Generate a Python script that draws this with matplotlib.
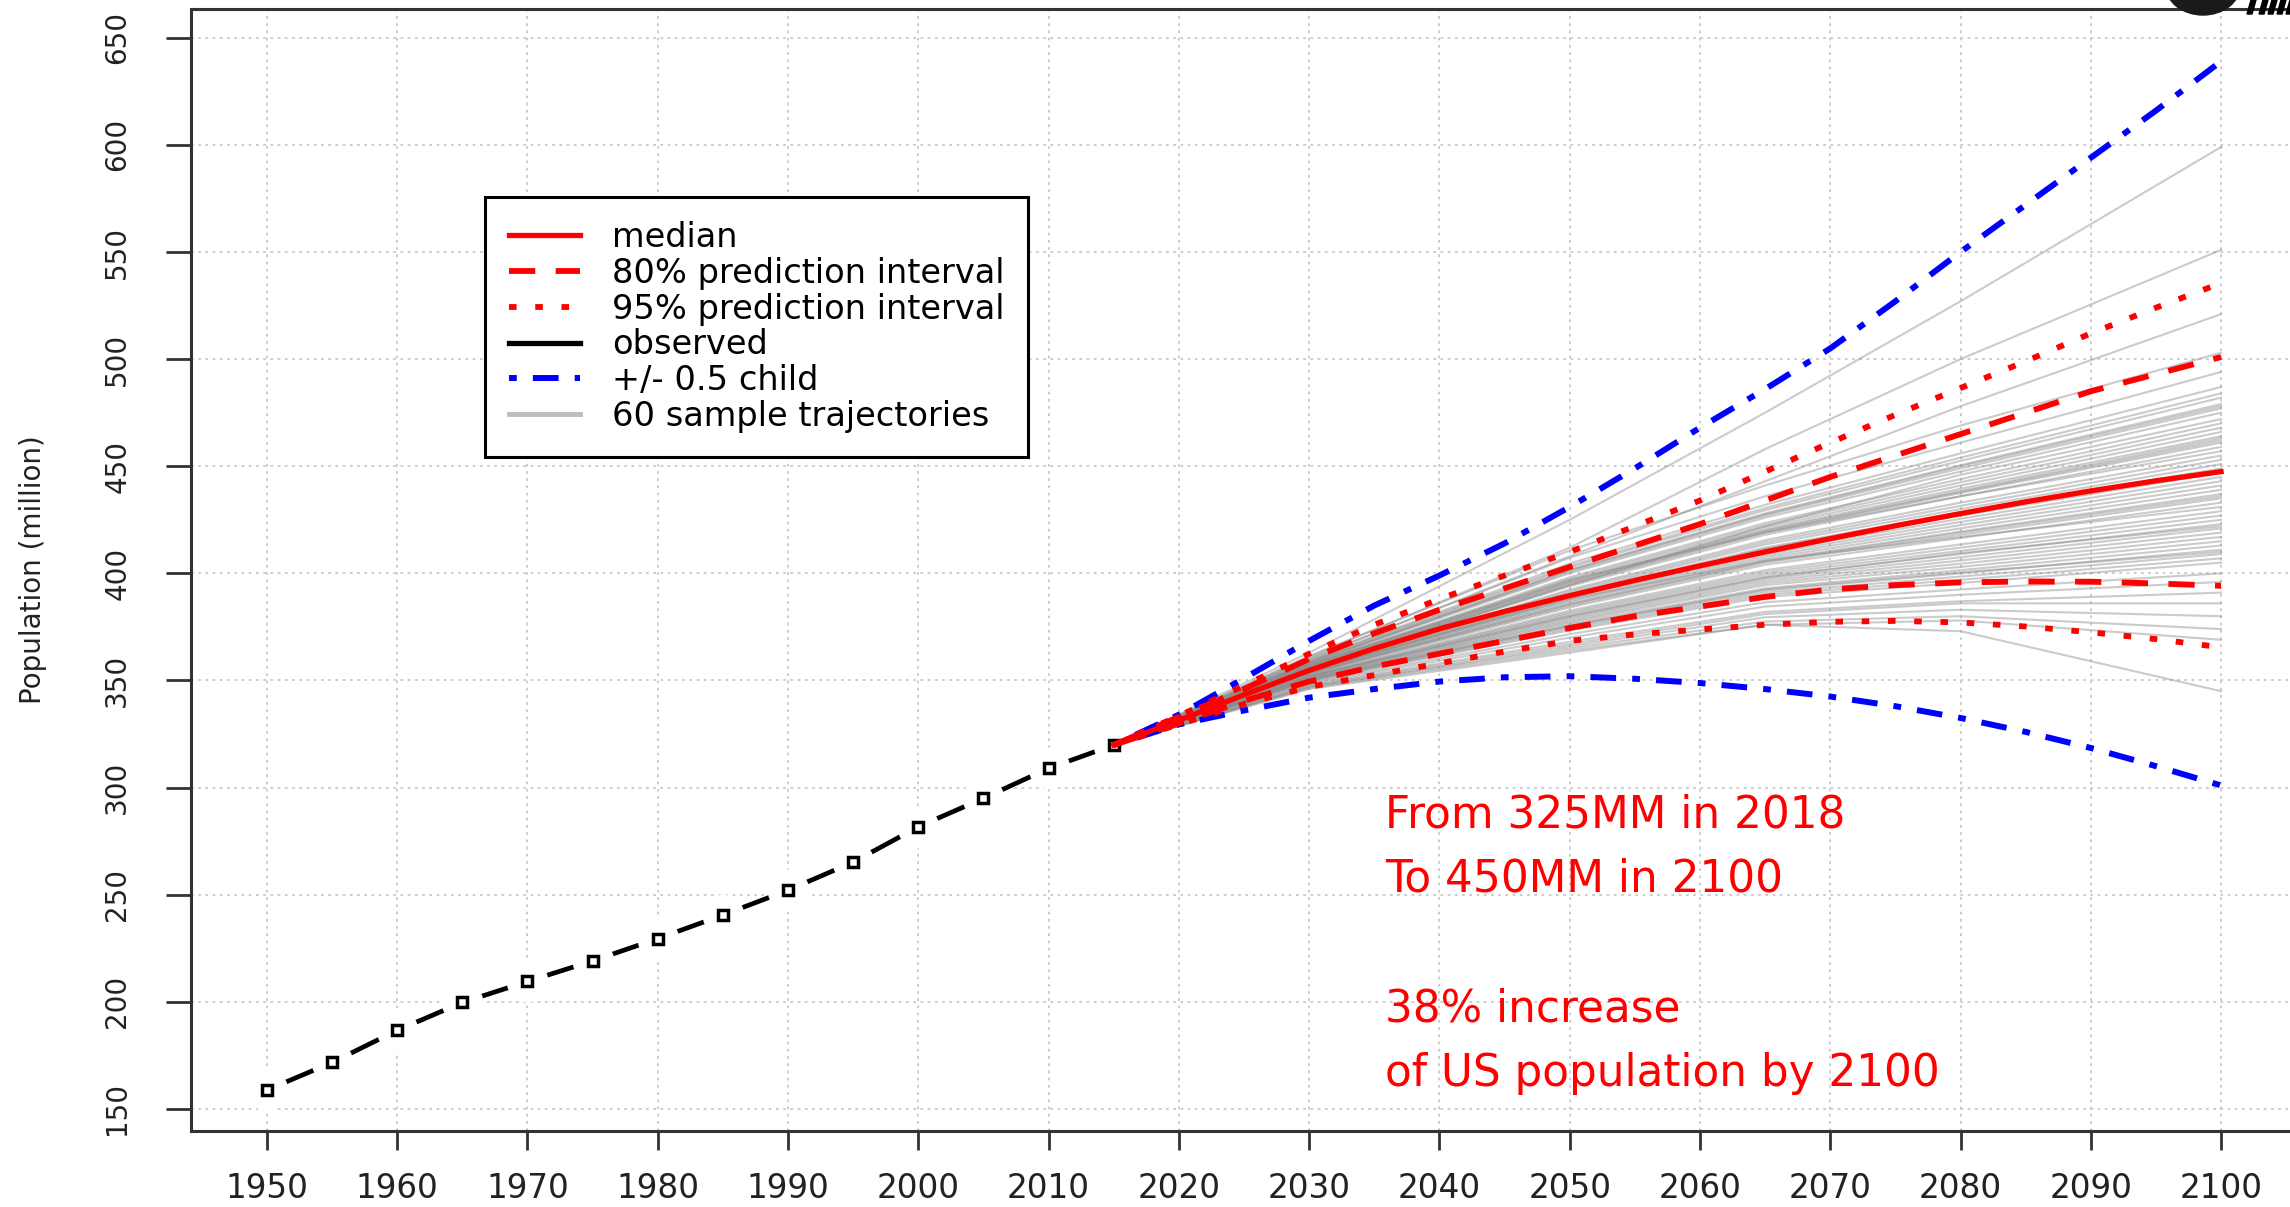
import matplotlib.pyplot as plt
from matplotlib.lines import Line2D
from matplotlib.patches import Ellipse, Polygon

# observed population (million)
obs_years = [1950, 1955, 1960, 1965, 1970, 1975, 1980, 1985, 1990, 1995, 2000, 2005, 2010, 2015]
obs_pop = [158.8, 171.7, 186.7, 199.7, 209.5, 219.1, 229.5, 240.5, 252.1, 265.2, 281.7, 295.0, 309.0, 319.9]

# projections
proj_years = [2015, 2020, 2025, 2030, 2035, 2040, 2045, 2050, 2055, 2060,
              2065, 2070, 2075, 2080, 2085, 2090, 2095, 2100]
median = [319.9, 331.4, 343.3, 354.7, 364.9, 374.1, 382.2, 389.6, 396.7, 403.5,
          410.0, 416.2, 422.2, 427.9, 433.4, 438.5, 443.2, 447.5]
pi80_up = [319.9, 333.0, 346.0, 360.0, 372.0, 383.0, 393.0, 403.0, 413.0, 423.0,
           434.0, 445.0, 455.0, 465.0, 475.0, 485.0, 493.0, 501.0]
pi80_low = [319.9, 330.0, 340.5, 349.5, 356.5, 362.5, 368.5, 374.5, 380.0, 384.5,
            389.0, 392.5, 394.5, 395.8, 396.2, 396.1, 395.3, 394.2]
pi95_up = [319.9, 333.5, 347.5, 362.5, 376.0, 388.0, 399.0, 410.0, 422.0, 434.0,
           447.5, 461.0, 474.0, 486.5, 499.0, 512.0, 524.0, 535.5]
pi95_low = [319.9, 329.5, 339.0, 347.0, 352.5, 358.0, 363.5, 368.5, 371.5, 373.8,
            376.0, 377.4, 377.8, 377.1, 375.2, 372.5, 369.3, 365.5]
half_up = [319.9, 334.0, 351.0, 368.5, 385.0, 399.0, 414.0, 431.0, 449.0, 468.0,
           486.0, 505.0, 527.0, 550.0, 572.0, 594.0, 616.0, 639.0]
half_low = [319.9, 329.5, 336.0, 342.0, 346.0, 349.5, 351.5, 352.0, 350.8, 348.8,
            346.0, 342.5, 338.0, 332.5, 326.0, 318.5, 310.0, 301.0]

# 60 sample trajectories: start 2015 then values at 2030, 2050, 2065, 2080, 2100
traj_start = 319.9
traj_years = [2015, 2030, 2050, 2065, 2080, 2100]
traj = [
    [363.0, 425.0, 475.0, 527.0, 599], [361.0, 412.0, 458.0, 500.0, 551], [360.0, 408.0, 443.0, 478.0, 521],
    [361.4, 410.7, 441.0, 469.0, 503], [360.3, 407.3, 436.0, 461.0, 494], [359.4, 404.6, 432.0, 456.0, 487],
    [359.1, 403.5, 430.5, 454.0, 484], [358.8, 402.7, 429.5, 452.5, 482], [358.5, 401.6, 428.0, 450.5, 479],
    [358.2, 400.8, 427.0, 449.0, 477], [358.0, 400.1, 426.0, 447.5, 475], [356.0, 394.5, 422.0, 446.0, 472],
    [357.4, 398.2, 423.5, 444.0, 470], [357.2, 397.4, 422.5, 442.5, 468], [356.9, 396.6, 421.5, 441.0, 466],
    [356.7, 395.9, 420.5, 439.5, 464], [356.4, 395.1, 419.5, 438.0, 462], [356.3, 394.7, 419.0, 437.5, 461],
    [356.1, 394.0, 418.0, 436.0, 459], [357.5, 397.0, 419.0, 436.0, 457], [355.6, 392.4, 415.5, 433.0, 455],
    [355.4, 391.7, 414.5, 431.5, 453], [355.1, 390.9, 413.5, 430.0, 451], [354.9, 390.2, 412.0, 428.5, 449],
    [354.6, 389.4, 411.0, 427.0, 447], [354.4, 388.7, 410.0, 425.5, 445], [354.2, 387.9, 409.0, 424.0, 443],
    [353.9, 387.1, 408.0, 422.5, 441], [353.7, 386.4, 407.0, 421.0, 439], [353.4, 385.6, 406.0, 419.5, 437],
    [353.2, 384.8, 405.0, 418.0, 435], [353.0, 384.1, 404.0, 416.5, 433], [354.5, 388.0, 406.0, 417.0, 431],
    [352.5, 382.6, 401.5, 413.5, 429], [352.2, 381.8, 400.5, 412.0, 427], [352.0, 381.1, 399.5, 410.5, 425],
    [351.8, 380.3, 398.5, 409.0, 423], [351.5, 379.5, 397.5, 407.5, 421], [351.3, 378.8, 396.5, 406.0, 419],
    [351.0, 378.0, 395.5, 404.5, 417], [350.8, 377.3, 394.5, 403.0, 415], [350.6, 376.5, 393.0, 401.5, 413],
    [350.3, 375.7, 392.0, 400.0, 411], [350.1, 375.0, 391.0, 398.5, 409], [349.8, 374.2, 390.0, 397.0, 407],
    [349.6, 373.4, 389.0, 395.5, 405], [349.0, 371.6, 386.5, 392.5, 400], [348.5, 370.0, 384.5, 390.0, 396],
    [347.9, 368.1, 382.0, 387.0, 391], [347.5, 367.0, 381.0, 386.0, 386], [347.0, 366.0, 379.5, 383.0, 380],
    [347.0, 365.0, 377.5, 380.0, 374], [346.5, 364.0, 376.0, 378.0, 369], [346.0, 363.0, 376.0, 373.0, 345],
    [358.0, 401.5, 427.5, 450.0, 478], [357.0, 396.0, 420.0, 438.5, 463], [354.5, 389.0, 411.5, 428.0, 448],
    [353.5, 385.5, 405.5, 419.0, 436], [352.0, 380.0, 398.0, 409.5, 422], [350.5, 375.5, 392.5, 400.5, 410],
]

legend_labels = ['median', '80% prediction interval', '95% prediction interval',
                 'observed', '+/- 0.5 child', '60 sample trajectories']
notes = ['From 325MM in 2018', 'To 450MM in 2100', '38% increase', 'of US population by 2100']
note_baselines = [828, 892, 1022, 1086]   # pixels from top

W, H = 2290, 1207
fig = plt.figure(figsize=(W / 100, H / 100), dpi=100)
ax = fig.add_axes([191 / W, 76 / H, 2106 / W, 1121.7 / H])

# trajectories
for row in traj:
    ax.plot(traj_years, [traj_start] + row, color='#8c8c8c', alpha=0.45, lw=1.5, zorder=2)

# observed with gaps around the points (like R type="b")
ax.plot(obs_years, obs_pop, color='black', lw=3.4, zorder=3)
ax.plot(obs_years, obs_pop, 'o', ms=30, mfc='white', mec='none', zorder=3.1)
ax.plot(obs_years, obs_pop, 's', ms=7.5, mfc='white', mec='black', mew=2.5, zorder=3.2)

dash80 = (0, (4.5, 3.5))
dot95 = (0, (1.3, 3.2))
dotdash = (0, (1.3, 2.7, 4.3, 2.7))
ax.plot(proj_years, half_up, color='blue', lw=4.3, ls=dotdash, zorder=4)
ax.plot(proj_years, half_low, color='blue', lw=4.3, ls=dotdash, zorder=4)
ax.plot(proj_years, pi95_up, color='red', lw=4.2, ls=dot95, zorder=5)
ax.plot(proj_years, pi95_low, color='red', lw=4.2, ls=dot95, zorder=5)
ax.plot(proj_years, pi80_up, color='red', lw=4.2, ls=dash80, zorder=5)
ax.plot(proj_years, pi80_low, color='red', lw=4.2, ls=dash80, zorder=5)
ax.plot(proj_years, median, color='red', lw=3.8, zorder=6)

ax.set_xlim(1944.17, 2105.83)
ax.set_ylim(139.7, 663.3)
ax.set_xticks(range(1950, 2101, 10))
ax.set_yticks(range(150, 651, 50))
ax.grid(True, color='#c8c8c8', linestyle=(0, (1.5, 2.5)), linewidth=1.3)
ax.set_axisbelow(True)

ax.tick_params(axis='x', length=13.7, width=2, pad=16, labelsize=23.5,
               color='#333333', labelcolor='#222222')
ax.tick_params(axis='y', length=18, width=2, pad=25, labelsize=20, labelrotation=90,
               color='#333333', labelcolor='#222222')
for lab in ax.get_yticklabels():
    lab.set_va('center')
for s in ax.spines.values():
    s.set_linewidth(2.2)
    s.set_color('#333333')

fig.text(33 / W, 1 - 570 / H, 'Population (million)', rotation=90, ha='center',
         va='center', fontsize=20, color='#222222')

handles = [Line2D([], [], color='red', lw=3.8),
           Line2D([], [], color='red', lw=4.2, ls=dash80),
           Line2D([], [], color='red', lw=4.2, ls=dot95),
           Line2D([], [], color='black', lw=3.8),
           Line2D([], [], color='blue', lw=4.3, ls=dotdash),
           Line2D([], [], color='#bdbdbd', lw=3.5)]
leg = ax.legend(handles, legend_labels, loc='upper left',
                bbox_to_anchor=(485 / W, 1 - 197 / H), bbox_transform=fig.transFigure,
                fontsize=24.2, frameon=True, fancybox=False, framealpha=1, edgecolor='black',
                borderpad=0.72, labelspacing=0.08, handlelength=2.1, handletextpad=0.95,
                borderaxespad=0)
leg.get_frame().set_linewidth(2.2)
leg.set_zorder(10)

for t, b in zip(notes, note_baselines):
    fig.text(1385 / W, 1 - b / H, t, color='red', fontsize=31.5, ha='left', va='baseline')

# logo corner (cropped at the top edge)
fig.add_artist(Ellipse((2203 / W, 1 + 14 / H), 74 / W, 58 / H, transform=fig.transFigure,
                       color='#1a1a1a', zorder=10))
for x0 in [2247, 2259, 2268, 2277, 2286]:
    fig.add_artist(Polygon([[x0 / W, 1 - 14 / H], [(x0 + 5) / W, 1 - 14 / H],
                            [(x0 + 9) / W, 1.0], [(x0 + 4) / W, 1.0]],
                           closed=True, transform=fig.transFigure, color='black', zorder=11))

plt.savefig('out.png', dpi=100)
